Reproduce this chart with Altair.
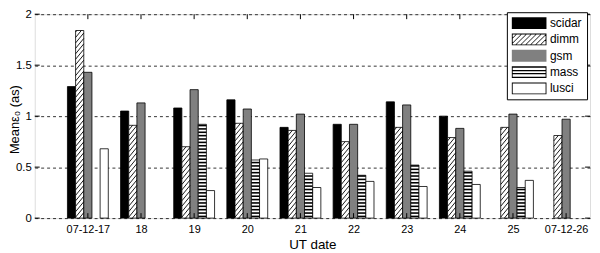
import altair as alt
import pandas as pd

DATES = ["07-12-17", "18", "19", "20", "21", "22", "23", "24", "25", "07-12-26"]
SERIES = ["scidar", "dimm", "gsm", "mass", "lusci"]
scidar = [1.29, 1.05, 1.08, 1.16, 0.89, 0.92, 1.14, 1.00, None, None]
dimm = [1.84, 0.91, 0.70, 0.93, 0.86, 0.75, 0.89, 0.79, 0.89, 0.81]
gsm = [1.43, 1.13, 1.26, 1.07, 1.02, 0.92, 1.11, 0.88, 1.02, 0.97]
mass = [None, None, 0.92, 0.57, 0.44, 0.42, 0.52, 0.46, 0.30, None]
lusci = [0.68, None, 0.27, 0.58, 0.30, 0.36, 0.31, 0.33, 0.37, None]
Y_TICKS = [0, 0.5, 1, 1.5, 2]

values = {"scidar": scidar, "dimm": dimm, "gsm": gsm, "mass": mass, "lusci": lusci}
rows = []
for s, name in enumerate(SERIES):
    for i, v in enumerate(values[name]):
        rows.append({"i": i + 1, "s": s, "series": name, "v": v})
df = pd.DataFrame(rows)

# geometry (styling) constants
W, H = 561, 206
XMAX = 10.45
YMAX = 2.0
BW = 0.769 / 5            # bar width in x units (MATLAB grouped bars)
PXX = XMAX / W            # x units per pixel
PXY = YMAX / H            # y units per pixel
HDY = 10 * PXY            # hatch rise across one bar
HSTEP = 5.5 * PXY         # hatch spacing
SSTEP = 3.4 * PXY         # stripe spacing
TICK = 5

FONT = "Liberation Sans"
GRAY = "#808080"
BAR_FILLS = ["black", "white", GRAY, "white", "white"]
SWATCH_FILLS = ["black", "black", GRAY, "black", "black"]

xscale = alt.Scale(domain=[0, XMAX], nice=False, zero=False)
yscale = alt.Scale(domain=[0, YMAX], nice=False)

label_expr = "[" + ",".join("'%s'" % d for d in DATES) + "][datum.value - 1]"

xaxis = alt.Axis(values=list(range(1, len(DATES) + 1)), labelExpr=label_expr,
                 ticks=False, domain=False, grid=False, title="UT date",
                 labelFontSize=11, titleFontSize=13.5, labelPadding=6,
                 titlePadding=3, labelFlush=False, labelOverlap=False)
yaxis = alt.Axis(values=Y_TICKS, format="~g", ticks=False, domain=False,
                 grid=True, gridColor="black", gridDash=[3, 3], gridWidth=0.8,
                 gridOpacity=1, title="Meanε₀ (as)", labelFontSize=11.5,
                 titleFontSize=13, labelPadding=3.5, titleAngle=-90,
                 titleX=-16.5, titleY=H / 2 + 3, titleBaseline="alphabetic",
                 titleAlign="center")

base = alt.Chart(df).transform_filter("isValid(datum.v)").transform_calculate(
    xl="datum.i + (datum.s - 2.5) * %f" % BW,
    xr="datum.i + (datum.s - 1.5) * %f" % BW,
)

bars = base.mark_rect(stroke="black", strokeWidth=0.8).encode(
    x=alt.X("xl:Q", scale=xscale, axis=xaxis),
    x2="xr:Q",
    y=alt.Y("v:Q", scale=yscale, axis=yaxis),
    y2=alt.datum(0),
    color=alt.Color("s:N", scale=alt.Scale(domain=list(range(len(SERIES))),
                    range=BAR_FILLS), legend=None),
)

hatch = base.transform_filter("datum.series == 'dimm'").transform_calculate(
    t="sequence(%f, datum.v, %f)" % (-HDY, HSTEP)
).transform_flatten(["t"]).transform_calculate(
    umin="max(0, -datum.t / %f)" % HDY,
    umax="min(1, (datum.v - datum.t) / %f)" % HDY,
).transform_filter("datum.umin < datum.umax").transform_calculate(
    xa="datum.xl + %f * datum.umin" % BW,
    xb="datum.xl + %f * datum.umax" % BW,
    ya="datum.t + %f * datum.umin" % HDY,
    yb="datum.t + %f * datum.umax" % HDY,
).mark_rule(color="black", strokeWidth=0.9).encode(
    x="xa:Q", x2="xb:Q", y="ya:Q", y2="yb:Q"
)

stripes = base.transform_filter("datum.series == 'mass'").transform_calculate(
    t="sequence(%f, datum.v, %f)" % (SSTEP / 2, SSTEP)
).transform_flatten(["t"]).mark_rule(color="black", strokeWidth=1.6).encode(
    x="xl:Q", x2="xr:Q", y="t:Q"
)

# inward ticks like the MATLAB box
xt = pd.DataFrame({"i": list(range(1, len(DATES) + 1))})
xticks_b = alt.Chart(xt).mark_rule(color="black").encode(
    x="i:Q", y=alt.datum(0), y2=alt.datum(TICK * PXY))
xticks_t = alt.Chart(xt).mark_rule(color="black").encode(
    x="i:Q", y=alt.datum(YMAX), y2=alt.datum(YMAX - TICK * PXY))
yt = pd.DataFrame({"t": Y_TICKS})
yticks_l = alt.Chart(yt).mark_rule(color="black").encode(
    y="t:Q", x=alt.datum(0), x2=alt.datum(TICK * PXX))
yticks_r = alt.Chart(yt).mark_rule(color="black").encode(
    y="t:Q", x=alt.datum(XMAX), x2=alt.datum(XMAX - TICK * PXX))

# legend swatch paths, fill only (unit = 6px, swatch 35x12)
HW = 17.5 / 6
LW = 0.9 / 6   # outline thickness
def rect(x0, y0, x1, y1):
    return "M%.3f,%.3fL%.3f,%.3fL%.3f,%.3fL%.3f,%.3fZ" % (x0, y0, x1, y0, x1, y1, x0, y1)
def rect_ccw(x0, y0, x1, y1):
    return "M%.3f,%.3fL%.3f,%.3fL%.3f,%.3fL%.3f,%.3fZ" % (x0, y0, x0, y1, x1, y1, x1, y0)

solid = rect(-HW, -1, HW, 1)
ring = solid + rect_ccw(-HW + LW, -1 + LW, HW - LW, 1 - LW)
hp = ring
a = -HW - 2
while a < HW:
    u0 = max(0.0, (-HW - a) / 2)
    u1 = min(1.0, (HW - LW - a) / 2)
    if u0 < u1:
        xa, ya = a + 2 * u0, 1 - 2 * u0
        xb, yb = a + 2 * u1, 1 - 2 * u1
        hp += "M%.3f,%.3fL%.3f,%.3fL%.3f,%.3fL%.3f,%.3fZ" % (
            xa, ya, xb, yb, xb + LW, yb, xa + LW, ya)
    a += 5 / 6
sp = solid
for (g0, g1) in [(1.5, 3.9), (5.1, 7.0), (8.2, 10.6)]:
    sp += rect_ccw(-HW + LW, g0 / 6 - 1, HW - LW, g1 / 6 - 1)

legend = alt.Legend(title=None, orient="none", legendX=477, legendY=-2,
                    padding=5, fillColor="white", strokeColor="black",
                    symbolSize=144, labelFontSize=12, labelFont=FONT,
                    labelColor="black", rowPadding=4.5, symbolOffset=11.5,
                    labelOffset=15, symbolStrokeWidth=0, symbolOpacity=1)

legend_pts = alt.Chart(pd.DataFrame({"series": SERIES})).mark_point(
    filled=True, clip=True, opacity=1, size=144
).encode(
    x=alt.datum(1),
    y=alt.datum(-1),
    fill=alt.Fill("series:N", scale=alt.Scale(domain=SERIES, range=SWATCH_FILLS),
                  legend=legend),
    shape=alt.Shape("series:N", scale=alt.Scale(domain=SERIES,
                    range=[solid, hp, solid, sp, ring]), legend=legend),
)

chart = alt.layer(bars, hatch, stripes, xticks_b, xticks_t, yticks_l, yticks_r,
                  legend_pts).properties(
    width=W, height=H,
    autosize=alt.AutoSizeParams(type="none"),
    padding={"left": 27, "top": 5, "right": 2, "bottom": 34},
).configure_view(stroke="black", strokeWidth=1).configure(
    font=FONT
).configure_axis(labelColor="black", titleColor="black", labelFont=FONT,
                 titleFont=FONT, titleFontWeight="normal")

chart.save("out.html", embed_options={"renderer": "svg", "actions": False})
